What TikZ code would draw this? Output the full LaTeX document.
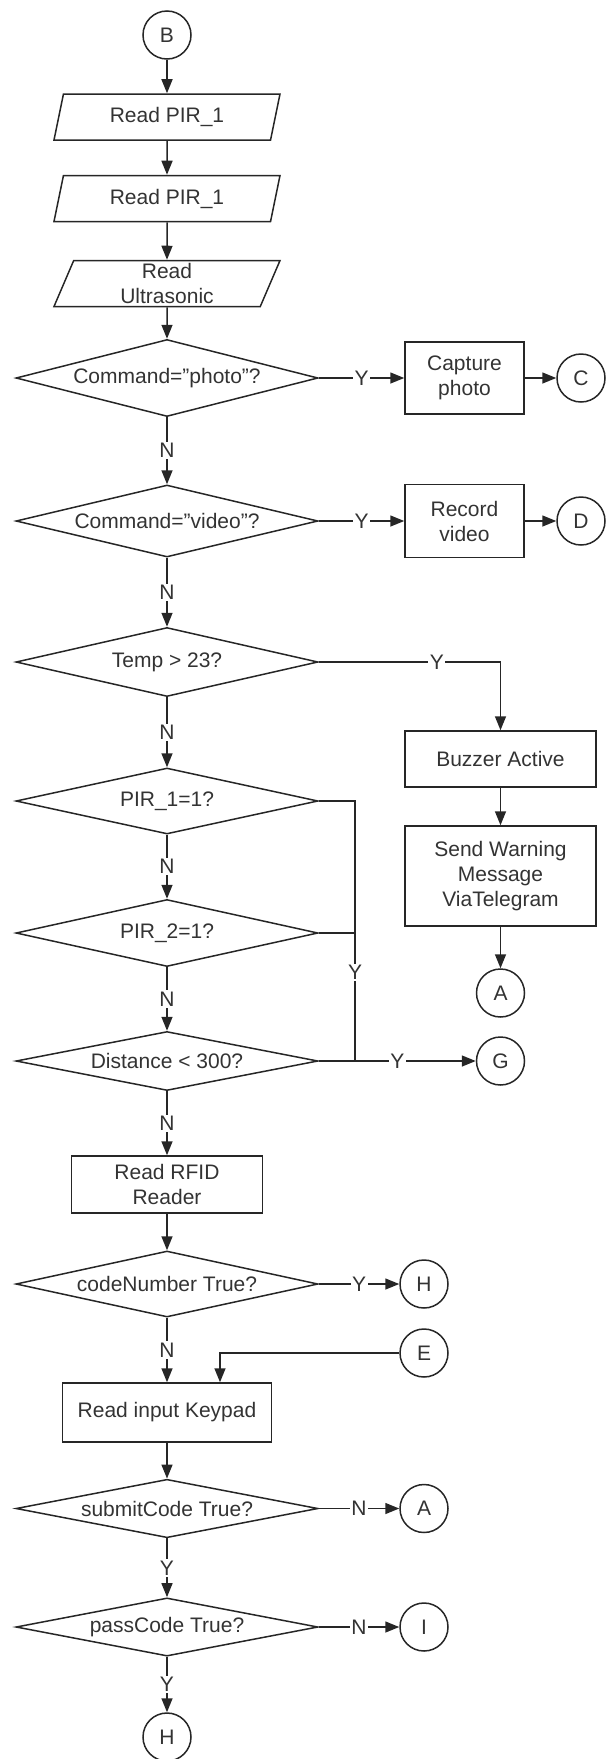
\documentclass[tikz,border=0pt]{standalone}
\usepackage{fontspec}
\setmainfont{Liberation Sans}
\usetikzlibrary{shapes.geometric,arrows.meta}

\tikzset{
  block/.style={rectangle, draw, align=center, inner sep=0pt},
  io/.style={trapezium, trapezium left angle=64, trapezium right angle=116,
    trapezium stretches body, draw, align=center, inner sep=0pt,
    minimum width=226pt, minimum height=46pt},
  decision/.style={diamond, draw, aspect=4, inner sep=0pt, minimum width=302pt},
  conn/.style={circle, draw, inner sep=0pt, minimum size=48pt},
  flow/.style={-{Triangle[length=14pt,width=11pt]}},
  lab/.style={fill=white, inner sep=1.5pt},
}

\begin{document}
\begin{tikzpicture}[x=1pt, y=-1pt, line width=1.5pt, draw=black!85, text=black!80,
    font=\fontsize{21}{25}\selectfont]
  \useasboundingbox (0,0) rectangle (614,1759);

  % main column
  \node[conn] (B) at (167,35) {B};
  \node[io] (rp1) at (167,117) {Read PIR\_1};
  \node[io] (rp2) at (167,198.5) {Read PIR\_1};
  \node[io] (rus) at (167,283.5) {Read\\Ultrasonic};
  \node[decision, minimum height=77pt] (photo) at (167,378) {Command=”photo”?};
  \node[decision, minimum height=72pt] (video) at (167,521) {Command=”video”?};
  \node[decision, minimum height=69pt] (temp) at (167,662) {Temp > 23?};
  \node[decision, minimum height=66pt] (pir1) at (167,801) {PIR\_1=1?};
  \node[decision, minimum height=67pt] (pir2) at (167,933) {PIR\_2=1?};
  \node[decision, minimum height=59pt] (dist) at (167,1061) {Distance < 300?};
  \node[block, minimum width=191pt, minimum height=57pt] (rfid) at (167,1184.5) {Read RFID\\Reader};
  \node[decision, minimum height=66pt] (code) at (167,1284) {codeNumber True?};
  \node[block, minimum width=209pt, minimum height=59pt] (keypad) at (167,1412.5) {Read input Keypad};
  \node[decision, minimum height=53pt] (submit) at (167,1508.5) {submitCode True?};
  \node[decision, minimum height=58pt] (pass) at (167,1627) {passCode True?};
  \node[conn] (H2) at (167,1737) {H};

  % right side
  \node[block, minimum width=119pt, minimum height=72pt] (capture) at (464.5,378) {Capture\\photo};
  \node[conn] (C) at (581,378) {C};
  \node[block, minimum width=119pt, minimum height=73pt] (record) at (464.5,521) {Record\\video};
  \node[conn] (D) at (581,521) {D};
  \node[block, minimum width=191pt, minimum height=56pt] (buzzer) at (500.5,759) {Buzzer Active};
  \node[block, minimum width=191pt, minimum height=100pt] (warn) at (500.5,876) {Send Warning\\Message\\ViaTelegram};
  \node[conn] (A1) at (500.5,993) {A};
  \node[conn] (G) at (500.5,1061) {G};
  \node[conn] (H1) at (424,1284) {H};
  \node[conn] (E) at (424,1353) {E};
  \node[conn] (A2) at (424,1508.5) {A};
  \node[conn] (I) at (424,1627) {I};
  \coordinate (j1) at (355,1061);

  % plain arrows
  \foreach \a/\b in {B/rp1, rp1/rp2, rp2/rus, rus/photo, rfid/code, keypad/submit,
      capture/C, record/D, buzzer/warn, warn/A1}
    \draw[flow] (\a) -- (\b);

  % yes / no branches
  \draw[flow] (photo) -- node[lab]{Y} (capture);
  \draw[flow] (photo) -- node[lab]{N} (video);
  \draw[flow] (video) -- node[lab]{Y} (record);
  \draw[flow] (video) -- node[lab]{N} (temp);
  \draw[flow] (temp.east) -- node[lab, pos=0.65]{Y} (temp.east -| buzzer) -- (buzzer);
  \draw[flow] (temp) -- node[lab]{N} (pir1);
  \draw[flow] (pir1) -- node[lab]{N} (pir2);
  \draw[flow] (pir2) -- node[lab]{N} (dist);
  \draw (pir1.east) -| node[lab, pos=0.83]{Y} (j1);
  \draw (pir2.east) -- (pir2.east -| j1);
  \draw[flow] (dist) -- node[lab]{Y} (G);
  \draw[flow] (dist) -- node[lab]{N} (rfid);
  \draw[flow] (code) -- node[lab]{Y} (H1);
  \draw[flow] (code) -- node[lab]{N} (keypad);
  \draw[flow] (E) -| ([xshift=53pt]keypad.north);
  \draw[flow] (submit) -- node[lab]{N} (A2);
  \draw[flow] (submit) -- node[lab]{Y} (pass);
  \draw[flow] (pass) -- node[lab]{N} (I);
  \draw[flow] (pass) -- node[lab]{Y} (H2);
\end{tikzpicture}
\end{document}
